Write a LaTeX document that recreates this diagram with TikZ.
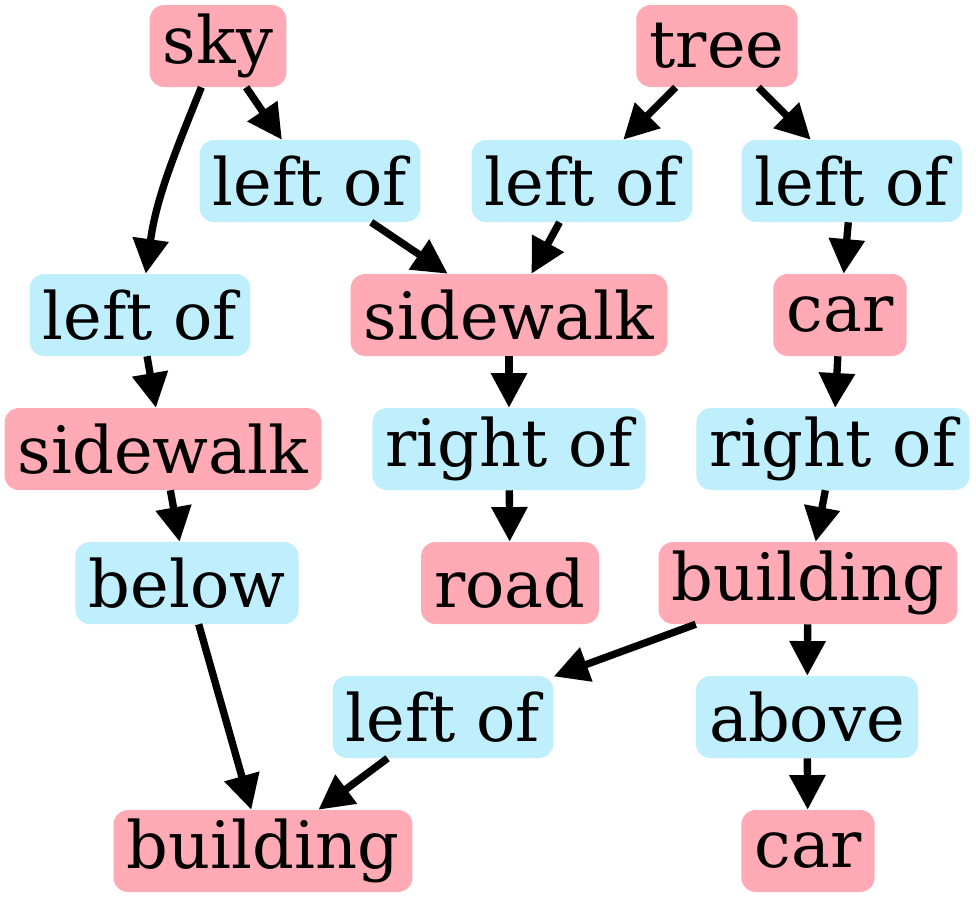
\documentclass[tikz,border=0pt]{standalone}
\usepackage{fontspec}
\setmainfont{DejaVu Serif}
\usetikzlibrary{arrows.meta}
\definecolor{objpink}{RGB}{255, 170, 181}
\definecolor{relblue}{RGB}{191, 238, 253}

\tikzset{
    obj/.style={rectangle, rounded corners=11pt, fill=objpink, minimum height=61.5pt, inner xsep=10pt, font=\fontsize{49}{58}\selectfont},
    rel/.style={rectangle, rounded corners=11pt, fill=relblue, minimum height=61.5pt, inner xsep=10pt, font=\fontsize{49}{58}\selectfont},
    link/.style={-{Triangle[length=26pt,width=26pt]}, line width=5.5pt}
}

\begin{document}
\begin{tikzpicture}[x=0.75pt, y=-0.75pt]
    \useasboundingbox (0,0) rectangle (976,900);

    % Objects
    \node[obj] (sky) at (218,46) {sky};
    \node[obj] (tree) at (717,46) {tree};
    \node[obj] (sidewalkA) at (509,315) {sidewalk};
    \node[obj] (carA) at (840,315) {car};
    \node[obj] (sidewalkB) at (163,449) {sidewalk};
    \node[obj] (road) at (510,583) {road};
    \node[obj] (buildingA) at (808,583) {building};
    \node[obj] (buildingB) at (263,851) {building};
    \node[obj] (carB) at (808,851) {car};

    % Relations
    \node[rel] (leftofA) at (310,181) {left of};
    \node[rel] (leftofB) at (582,181) {left of};
    \node[rel] (leftofC) at (852,181) {left of};
    \node[rel] (leftofD) at (140,315) {left of};
    \node[rel] (rightofA) at (509,449) {right of};
    \node[rel] (rightofB) at (833,449) {right of};
    \node[rel] (below) at (187,583) {below};
    \node[rel] (leftofE) at (443,717) {left of};
    \node[rel] (above) at (807,717) {above};

    % Edges
    \draw[link] (sky) to[out=-112, in=82] (leftofD);
    \draw[link] (sky) -- (leftofA);
    \draw[link] (leftofA) -- (sidewalkA);
    \draw[link] (tree) -- (leftofB);
    \draw[link] (tree) -- (leftofC);
    \draw[link] (leftofB) -- (sidewalkA);
    \draw[link] (leftofC) -- (carA);
    \draw[link] (leftofD) -- (sidewalkB);
    \draw[link] (sidewalkA) -- (rightofA);
    \draw[link] (carA) -- (rightofB);
    \draw[link] (sidewalkB) -- (below);
    \draw[link] (rightofA) -- (road);
    \draw[link] (rightofB) -- (buildingA);
    \draw[link] (below) -- (buildingB);
    \draw[link] (buildingA) -- (leftofE);
    \draw[link] (buildingA) -- (above);
    \draw[link] (leftofE) -- (buildingB);
    \draw[link] (above) -- (carB);
\end{tikzpicture}
\end{document}
